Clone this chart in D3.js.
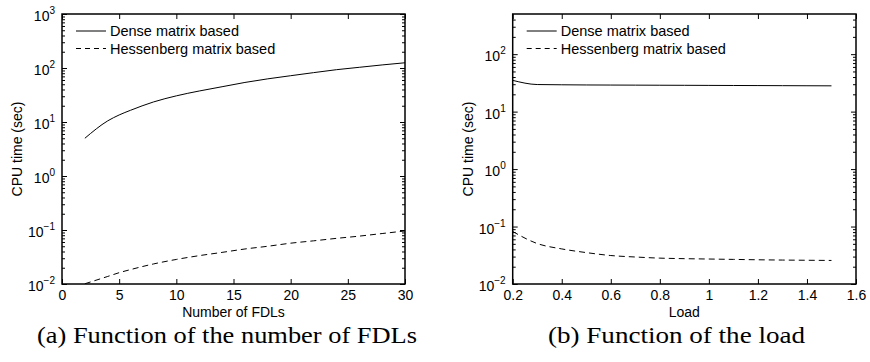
<!DOCTYPE html>
<html><head><meta charset="utf-8">
<script src="https://cdn.jsdelivr.net/npm/d3@7"></script>
<style>
html,body{margin:0;padding:0;background:#fff;}
svg{display:block;}
text{font-family:"Liberation Sans",Arial,sans-serif;fill:#000;}
.cap{font-family:"Liberation Serif","Times New Roman",serif;}
</style></head>
<body>
<svg id="chart" width="870" height="362"></svg>
<script>
// ---- data ----
const seriesNames = ["Dense matrix based", "Hessenberg matrix based"];
// (a) function of the number of FDLs
const fdlCount   = [2, 4, 5, 6, 8, 10, 12, 14, 16, 18, 20, 22, 24, 26, 28, 30];
const fdlDense   = [5, 10.5, 13.5, 16.5, 23.5, 30.5, 37.5, 45, 54, 63, 72, 82, 93, 103, 114, 125];
const fdlHess    = [0.0101, 0.0138, 0.0162, 0.0185, 0.0235, 0.0285, 0.0335, 0.0385, 0.0445, 0.050, 0.057, 0.063, 0.070, 0.077, 0.086, 0.096];
// (b) function of the load
const loadVals   = [0.2, 0.3, 0.4, 0.5, 0.6, 0.7, 0.8, 0.9, 1.0, 1.1, 1.2, 1.3, 1.4, 1.5];
const loadDense  = [35, 29.6, 29.3, 29.1, 29.0, 28.9, 28.8, 28.7, 28.6, 28.5, 28.4, 28.3, 28.2, 28.1];
const loadHess   = [0.082, 0.0506, 0.0408, 0.0352, 0.0313, 0.0295, 0.0282, 0.0276, 0.0272, 0.0268, 0.0264, 0.0261, 0.0259, 0.0257];
// axis ticks
const fdlTicks   = [0, 5, 10, 15, 20, 25, 30];
const loadTicks  = [0.2, 0.4, 0.6, 0.8, 1.0, 1.2, 1.4, 1.6];
const decadesA   = [-2, -1, 0, 1, 2, 3];
const decadesB   = [-2, -1, 0, 1, 2];
const xLabels    = ["Number of FDLs", "Load"];
const yLabel     = "CPU time (sec)";
const captions   = ["(a) Function of the number of FDLs", "(b) Function of the load"];

const svg = d3.select("#chart");

function panel(cfg) {
  const x = d3.scaleLinear().domain(cfg.xDomain).range([cfg.left, cfg.right]);
  const y = d3.scaleLog().domain(cfg.yDomain).range([cfg.bottom, cfg.top]);
  const g = svg.append("g");

  // minor log ticks
  const minors = [];
  const lo = Math.floor(Math.log10(cfg.yDomain[0])), hi = Math.ceil(Math.log10(cfg.yDomain[1]));
  for (let e = lo; e < hi; e++) for (let k = 2; k <= 9; k++) {
    const v = k * Math.pow(10, e);
    if (v > cfg.yDomain[0] && v < cfg.yDomain[1]) minors.push(v);
  }
  const majors = cfg.decades.map(e => Math.pow(10, e));

  const axStyle = sel => {
    sel.select(".domain").remove();
    sel.selectAll("line").attr("stroke", "#000").attr("stroke-width", 1);
  };
  // y ticks left and right (inward)
  g.append("g").attr("transform", `translate(${cfg.left},0)`)
    .call(d3.axisLeft(y).tickValues(minors).tickSizeInner(-3).tickSizeOuter(0).tickFormat(""))
    .call(axStyle);
  g.append("g").attr("transform", `translate(${cfg.left},0)`)
    .call(d3.axisLeft(y).tickValues(majors).tickSizeInner(-5).tickSizeOuter(0).tickFormat(""))
    .call(axStyle);
  g.append("g").attr("transform", `translate(${cfg.right},0)`)
    .call(d3.axisRight(y).tickValues(minors).tickSizeInner(-3).tickSizeOuter(0).tickFormat(""))
    .call(axStyle);
  g.append("g").attr("transform", `translate(${cfg.right},0)`)
    .call(d3.axisRight(y).tickValues(majors).tickSizeInner(-5).tickSizeOuter(0).tickFormat(""))
    .call(axStyle);
  // x ticks bottom (with labels) and top
  const xb = g.append("g").attr("transform", `translate(0,${cfg.bottom})`)
    .call(d3.axisBottom(x).tickValues(cfg.xTicks).tickSizeInner(-5).tickSizeOuter(0).tickPadding(6)
      .tickFormat(d => String(+d.toFixed(1))))
    .call(axStyle);
  xb.selectAll("text").attr("font-size", 14).attr("font-family", '"Liberation Sans",Arial,sans-serif').attr("fill", "#000");
  g.append("g").attr("transform", `translate(0,${cfg.top})`)
    .call(d3.axisTop(x).tickValues(cfg.xTicks).tickSizeInner(-5).tickSizeOuter(0).tickFormat(""))
    .call(axStyle);

  // y tick labels with superscripts
  cfg.decades.forEach(e => {
    const t = g.append("text").attr("x", cfg.left - 7).attr("y", y(Math.pow(10, e)) + 7)
      .attr("text-anchor", "end").attr("font-size", 14);
    t.append("tspan").text("10");
    t.append("tspan").attr("dy", -7).attr("font-size", 10).text(e < 0 ? "\u2212" + (-e) : String(e));
  });

  // box
  g.append("rect").attr("x", cfg.left).attr("y", cfg.top)
    .attr("width", cfg.right - cfg.left).attr("height", cfg.bottom - cfg.top)
    .attr("fill", "none").attr("stroke", "#000").attr("stroke-width", 1.5);

  // lines
  const clipId = "clip" + cfg.id;
  svg.append("clipPath").attr("id", clipId).append("rect")
    .attr("x", cfg.left).attr("y", cfg.top - 1).attr("width", cfg.right - cfg.left).attr("height", cfg.bottom - cfg.top + 1);
  const line = d3.line().x(d => x(d[0])).y(d => y(d[1])).curve(d3.curveMonotoneX);
  const lg = g.append("g").attr("clip-path", `url(#${clipId})`);
  lg.append("path").datum(cfg.xs.map((v, i) => [v, cfg.dense[i]]))
    .attr("d", line).attr("fill", "none").attr("stroke", "#000").attr("stroke-width", 1);
  lg.append("path").datum(cfg.xs.map((v, i) => [v, cfg.hess[i]]))
    .attr("d", line).attr("fill", "none").attr("stroke", "#000").attr("stroke-width", 1)
    .attr("stroke-dasharray", "6,4");

  // legend
  const lx = cfg.left + 14, ly = cfg.top + 17;
  [0, 1].forEach(i => {
    const yy = ly + i * 17.5;
    g.append("line").attr("x1", lx).attr("x2", lx + 30).attr("y1", yy).attr("y2", yy)
      .attr("stroke", "#000").attr("stroke-width", 1)
      .attr("stroke-dasharray", i === 1 ? "5,4" : null);
    g.append("text").attr("x", lx + 34).attr("y", yy + 5).attr("font-size", 14.5).text(seriesNames[i]);
  });

  // axis labels
  g.append("text").attr("x", (cfg.left + cfg.right) / 2).attr("y", 317)
    .attr("text-anchor", "middle").attr("font-size", 14).text(cfg.xLabel);
  g.append("text").attr("transform", `translate(${cfg.left - 40},${(cfg.top + cfg.bottom) / 2}) rotate(-90)`)
    .attr("text-anchor", "middle").attr("font-size", 14).text(yLabel);
  // caption
  g.append("text").attr("class", "cap").attr("x", cfg.capX).attr("y", 343)
    .attr("text-anchor", "middle").attr("font-size", 23)
    .attr("textLength", cfg.capW).attr("lengthAdjust", "spacingAndGlyphs").text(cfg.caption);
}

panel({id: "a", left: 62, right: 405, top: 14, bottom: 284,
  xDomain: [0, 30], yDomain: [0.01, 1000], xTicks: fdlTicks, decades: decadesA,
  xs: fdlCount, dense: fdlDense, hess: fdlHess, xLabel: xLabels[0], caption: captions[0],
  capX: 227, capW: 380});
panel({id: "b", left: 512.7, right: 856, top: 14, bottom: 284,
  xDomain: [0.2, 1.6], yDomain: [0.01, 500], xTicks: loadTicks, decades: decadesB,
  xs: loadVals, dense: loadDense, hess: loadHess, xLabel: xLabels[1], caption: captions[1],
  capX: 676.5, capW: 257});
</script>
</body></html>
